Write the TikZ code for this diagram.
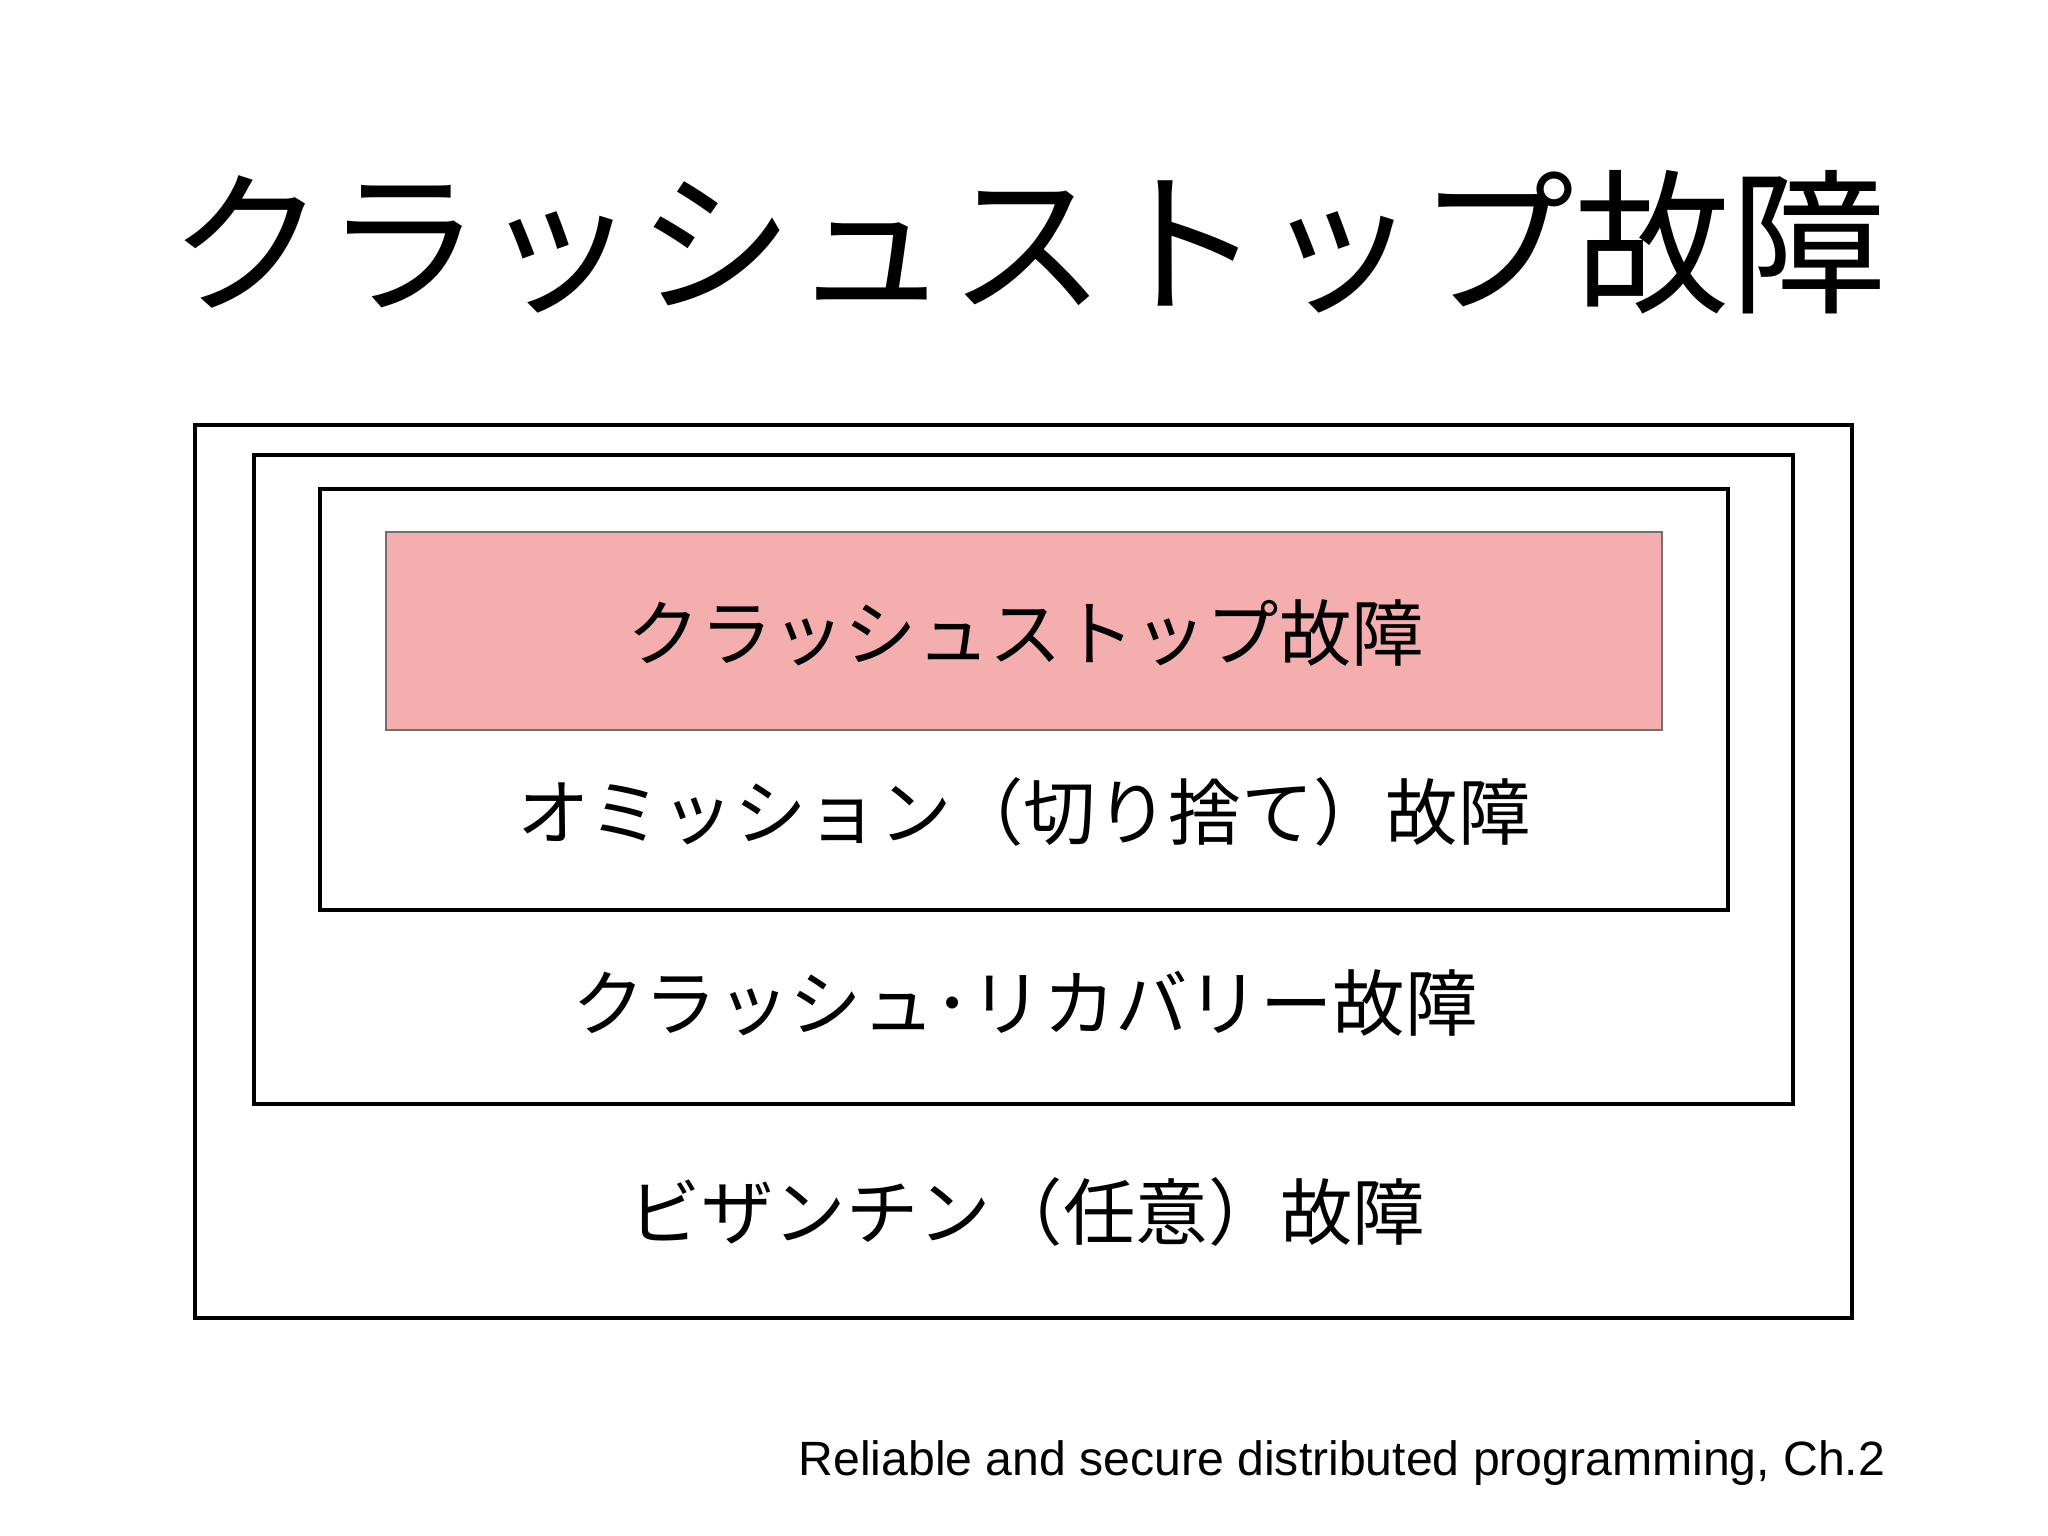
\documentclass[tikz,border=0pt]{standalone}
\usepackage{fontspec}
\setmainfont{Liberation Sans}
\newfontfamily\jpfont{Noto Sans CJK JP}
\definecolor{crashpink}{HTML}{F4AEAE}
\definecolor{crashedge}{HTML}{707070}
\begin{document}
\begin{tikzpicture}
\tikzstyle{layer}=[draw,line width=1pt,rectangle,inner sep=0pt]
\tikzstyle{lbl}=[font=\jpfont\fontsize{20.6}{24}\selectfont,inner sep=0pt]
\useasboundingbox (0,0) rectangle (20.48,15.36);
\node[font=\jpfont\fontsize{44.4}{52}\selectfont,inner sep=0pt] at (10.28,12.94) (title) {クラッシュストップ故障};
\node[layer,minimum width=16.57cm,minimum height=8.93cm] at (10.235,6.645) (byz) {};
\node[layer,minimum width=15.39cm,minimum height=6.49cm] at (10.235,7.565) (crec) {};
\node[layer,minimum width=14.08cm,minimum height=4.21cm] at (10.24,8.365) (omit) {};
\node[layer,draw=crashedge,fill=crashpink,line width=0.7pt,minimum width=12.76cm,minimum height=1.98cm] at (10.24,9.05) (cstop) {};
\node[lbl] at (10.26,9.03) (cstoplbl) {クラッシュストップ故障};
\node[lbl] at (10.24,7.24) (omitlbl) {オミッション（切り捨て）故障};
\node[lbl] at (10.25,5.33) (creclbl) {クラッシュ･リカバリー故障};
\node[lbl] at (10.27,3.24) (byzlbl) {ビザンチン（任意）故障};
\node[font=\fontsize{13.7}{16}\selectfont,inner sep=0pt,anchor=east] at (18.86,0.73) (src) {Reliable and secure distributed programming, Ch.2};
\end{tikzpicture}
\end{document}
